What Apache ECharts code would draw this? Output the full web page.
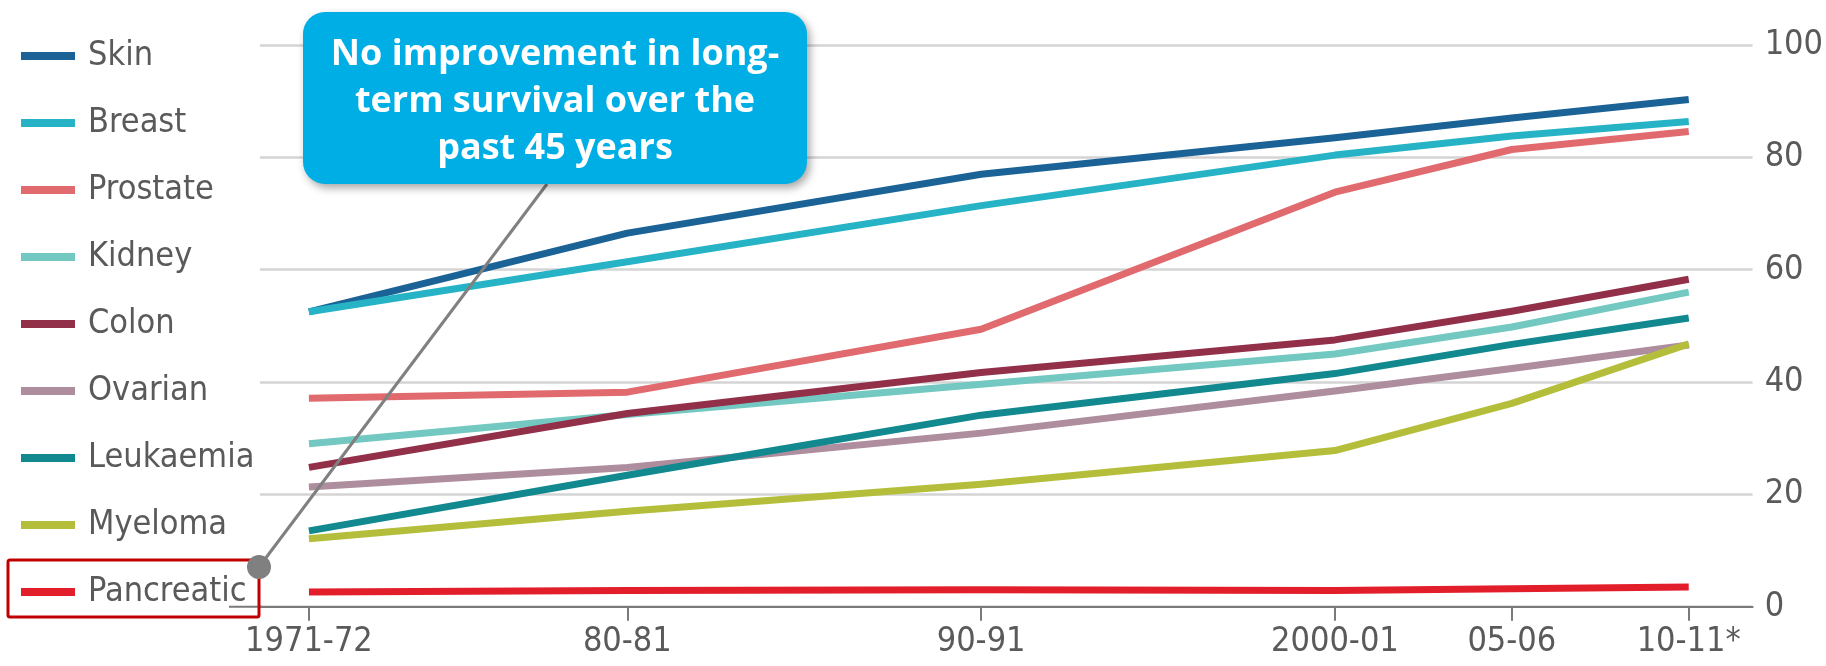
<!DOCTYPE html>
<html>
<head>
<meta charset="utf-8">
<title>Ten-year cancer survival</title>
<script src="https://cdn.jsdelivr.net/npm/echarts@6/dist/echarts.min.js"></script>
<style>
  html, body { margin: 0; padding: 0; background: #ffffff; }
  #chart { width: 1826px; height: 666px; }
</style>
</head>
<body>
<div id="chart"></div>
<script>
// Survival periods, placed on a continuous year scale (mid-point of each period)
const periodYears = [1971.5, 1980.5, 1990.5, 2000.5, 2005.5, 2010.5];
const periodLabels = ['1971-72', '80-81', '90-91', '2000-01', '05-06', '10-11*'];
const yTicks = [0, 20, 40, 60, 80, 100];

// Ten-year net survival, %
const skin       = [52.5, 66.5, 77.0, 83.5, 87.0, 90.3];
const breast     = [52.5, 61.4, 71.4, 80.4, 83.8, 86.4];
const prostate   = [37.1, 38.2, 49.4, 73.8, 81.4, 84.6];
const kidney     = [29.0, 34.2, 39.6, 45.0, 49.8, 56.0];
const colon      = [24.8, 34.4, 41.7, 47.5, 52.6, 58.3];
const ovarian    = [21.3, 24.8, 30.9, 38.4, 42.4, 46.6];
const leukaemia  = [13.5, 23.4, 34.1, 41.5, 46.7, 51.4];
const myeloma    = [12.1, 17.0, 21.8, 27.8, 36.2, 46.8];
const pancreatic = [2.6, 2.9, 3.0, 2.9, 3.2, 3.5];

const seriesNames = ['Skin', 'Breast', 'Prostate', 'Kidney', 'Colon', 'Ovarian', 'Leukaemia', 'Myeloma', 'Pancreatic'];
const seriesValues = [skin, breast, prostate, kidney, colon, ovarian, leukaemia, myeloma, pancreatic];
const seriesColors = ['#1b6396', '#27b3c6', '#e06a6e', '#73c9c1', '#92304a', '#ae8d9e', '#11898f', '#b4be3a', '#e21e2b'];

const calloutLines = ['No improvement in long-', 'term survival over the', 'past 45 years'];

const condensed = "'DejaVu Sans Condensed', 'DejaVu Sans', sans-serif";
const textGrey = '#5a5a5a';

const chart = echarts.init(document.getElementById('chart'), null, { renderer: 'canvas' });

const series = seriesNames.map((name, i) => ({
  name: name,
  type: 'line',
  data: periodYears.map((x, j) => [x, seriesValues[i][j]]),
  showSymbol: false,
  symbol: 'none',
  color: seriesColors[i],
  lineStyle: { width: 7, color: seriesColors[i], cap: 'butt', join: 'round' },
  emphasis: { disabled: true },
  animation: false
}));

// Callout text lines
const calloutText = calloutLines.map((t, i) => ({
  type: 'text',
  z: 102,
  style: {
    text: t,
    x: 555,
    y: 55 + i * 47,
    align: 'center',
    verticalAlign: 'middle',
    fill: '#ffffff',
    font: "bold 36px 'Open Sans', sans-serif"
  }
}));

chart.setOption({
  animation: false,
  backgroundColor: '#ffffff',
  grid: { left: 260, right: 71, top: 45, bottom: 59.3, containLabel: false },
  legend: {
    orient: 'vertical',
    left: 16,
    top: 31,
    padding: 5,
    icon: 'rect',
    itemWidth: 54,
    itemHeight: 8,
    itemGap: 27,
    selectedMode: false,
    data: seriesNames,
    textStyle: {
      fontFamily: condensed,
      fontSize: 34,
      lineHeight: 40,
      color: textGrey,
      padding: [0, 0, 0, 8]
    }
  },
  xAxis: {
    type: 'value',
    min: 1970.117,
    max: 2012.306,
    splitLine: { show: false },
    axisLine: { show: true, lineStyle: { color: '#7a7a7a', width: 2 } },
    axisTick: {
      show: true,
      customValues: periodYears,
      length: 14,
      lineStyle: { color: '#7a7a7a', width: 2 }
    },
    axisLabel: {
      customValues: periodYears,
      margin: 18,
      fontFamily: condensed,
      fontSize: 34,
      color: textGrey,
      formatter: function (v) {
        const idx = periodYears.findIndex(p => Math.abs(p - v) < 1e-6);
        return idx >= 0 ? periodLabels[idx] : '';
      }
    }
  },
  yAxis: {
    type: 'value',
    position: 'right',
    min: yTicks[0],
    max: yTicks[yTicks.length - 1],
    interval: 20,
    axisLine: { show: false },
    axisTick: { show: false },
    splitLine: { show: true, lineStyle: { color: '#d4d4d4', width: 2.5 } },
    axisLabel: {
      margin: 12,
      fontFamily: condensed,
      fontSize: 34,
      color: textGrey
    }
  },
  series: series,
  graphic: [
    // short stub of the baseline reaching left toward the legend
    {
      type: 'line',
      z: 1,
      shape: { x1: 229, y1: 606.7, x2: 262, y2: 606.7 },
      style: { stroke: '#7a7a7a', lineWidth: 2 }
    },
    // highlight box round the Pancreatic legend entry
    {
      type: 'rect',
      z: 100,
      shape: { x: 8, y: 560, width: 251, height: 57, r: 2 },
      style: { fill: 'none', stroke: '#c00000', lineWidth: 3 }
    },
    // connector from callout to the highlighted entry
    {
      type: 'line',
      z: 100,
      shape: { x1: 259, y1: 567, x2: 547, y2: 184 },
      style: { stroke: '#808080', lineWidth: 3 }
    },
    {
      type: 'circle',
      z: 101,
      shape: { cx: 259, cy: 567, r: 12 },
      style: { fill: '#808080' }
    },
    // callout box
    {
      type: 'rect',
      z: 101,
      shape: { x: 303, y: 12, width: 504, height: 172, r: 22 },
      style: {
        fill: '#00aee6',
        shadowBlur: 8,
        shadowOffsetX: 3,
        shadowOffsetY: 4,
        shadowColor: 'rgba(0,0,0,0.35)'
      }
    }
  ].concat(calloutText)
});
</script>
</body>
</html>
